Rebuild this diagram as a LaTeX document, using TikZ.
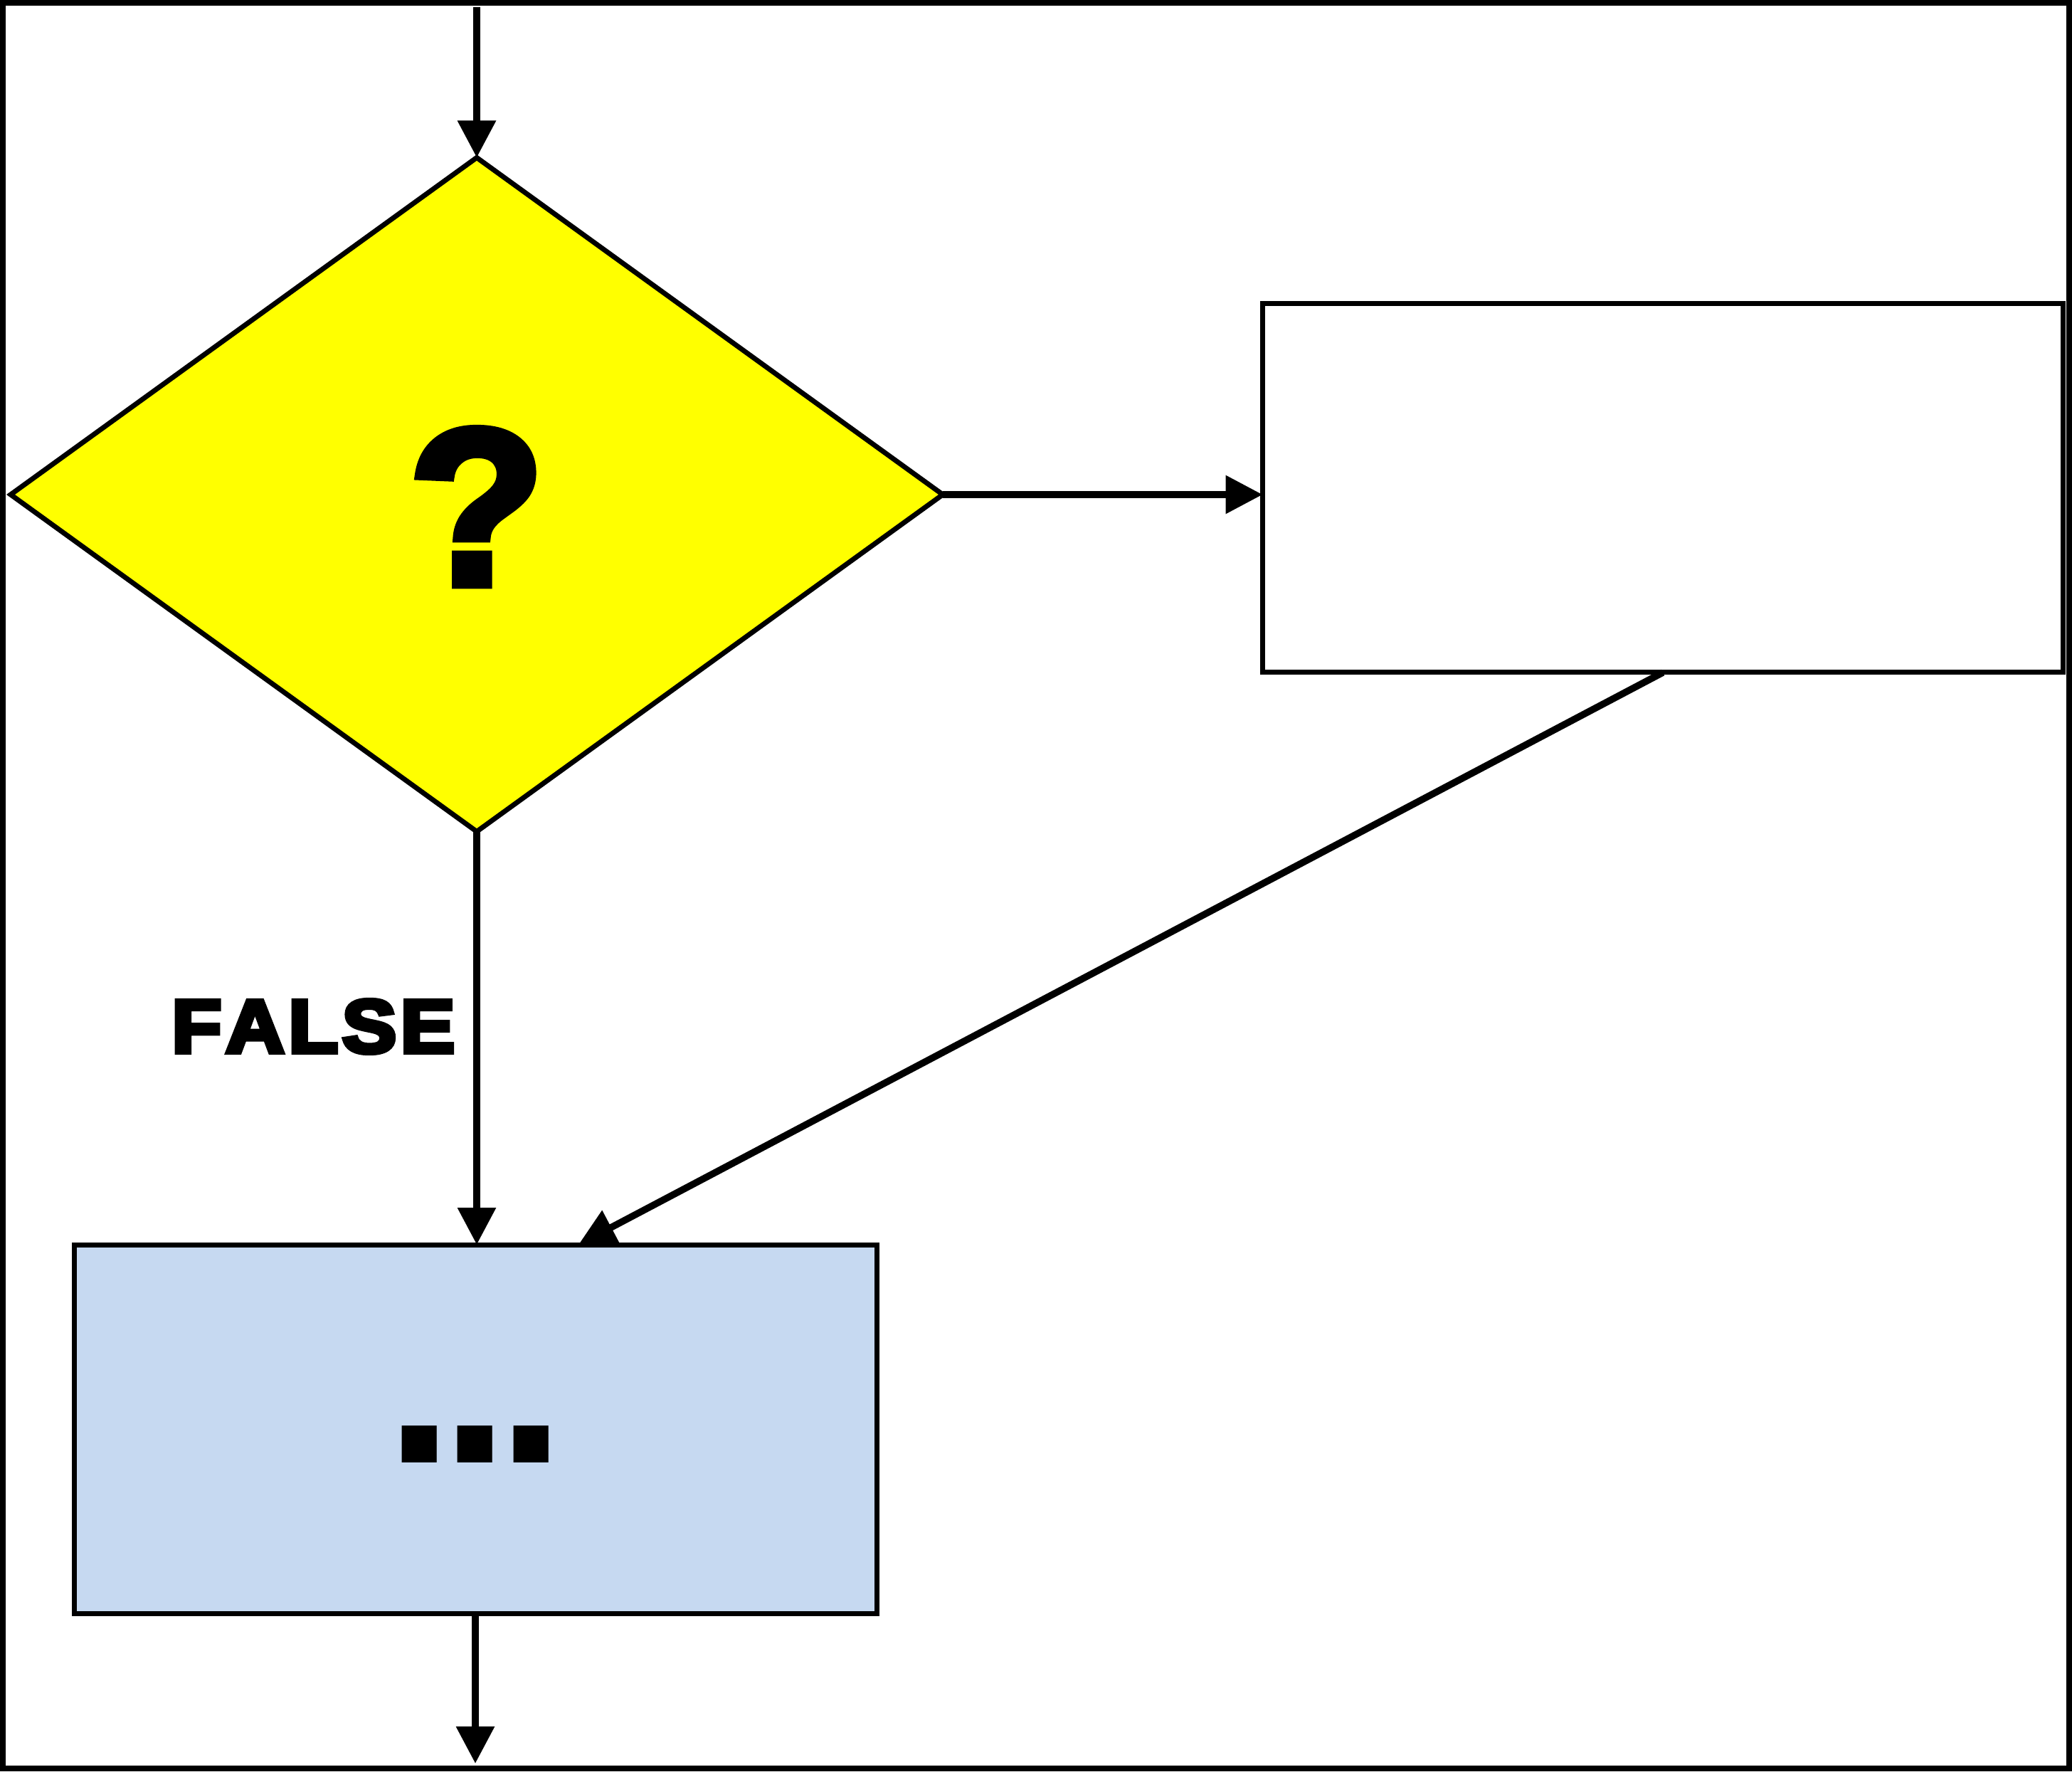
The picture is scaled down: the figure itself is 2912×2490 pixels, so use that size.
\documentclass[tikz,border=0pt]{standalone}
\usepackage{fontspec}
\setmainfont{Liberation Sans}
\newfontfamily\heavyfont[BoldFeatures={FakeBold=4}]{Liberation Sans}
\newfontfamily\labelfont[BoldFeatures={FakeBold=6}]{Liberation Sans}
\usetikzlibrary{shapes.geometric,arrows.meta,calc}
\definecolor{boxblue}{RGB}{198,217,241}
\definecolor{decyellow}{RGB}{255,255,0}
\begin{document}
\begin{tikzpicture}[x=0.25pt,y=-0.25pt,
  conn/.style={line width=2.4pt,-{Triangle[length=13pt,width=13pt]}},
  shapeline/.style={draw=black,line width=1.75pt,inner sep=0pt,outer sep=0pt},
  framebox/.style={line width=2pt},
  bigfont/.style={font=\heavyfont\fontsize{78}{80}\selectfont\bfseries},
  dotfont/.style={font=\fontsize{87}{90}\selectfont\bfseries},
  lblfont/.style={font=\labelfont\fontsize{26.5}{28}\selectfont\bfseries}]
\useasboundingbox (0,0) rectangle (2912,2490);
\draw[framebox] (4,4) rectangle (2908,2485);
\node[diamond,shapeline,fill=decyellow,minimum width=327.5pt,minimum height=236.75pt,
      bigfont,text height=63pt,text depth=0pt] (dec) at (670,695) {?};
\node[rectangle,shapeline,fill=white,minimum width=281.25pt,minimum height=129.5pt] (act) at (2337,686) {};
\node[rectangle,shapeline,fill=boxblue,minimum width=282pt,minimum height=129.5pt,
      dotfont,text height=23.5pt,text depth=0pt] (blk) at (668,2008) {.\kern-4.55pt.\kern-4.55pt.};
\node[anchor=base east,inner sep=0pt,lblfont] (lbl) at (640,1479) {\scalebox{1.08}[1]{F\kern1.3pt A\kern1.3pt L\kern1.3pt S\kern1.3pt E}};
\path (dec.north) ++(0,-211) coordinate (in);
\path (blk.south) ++(0,211) coordinate (out);
\draw[conn] (in) -- (dec.north);
\draw[conn] (dec.east) -- (dec.east -| act.west);
\draw[conn] (dec.south) -- (dec.south |- blk.north);
\draw[conn] (act.south) -- ($(blk.north)+(145,0)$);
\draw[conn] (blk.south) -- (out);
\end{tikzpicture}
\end{document}
